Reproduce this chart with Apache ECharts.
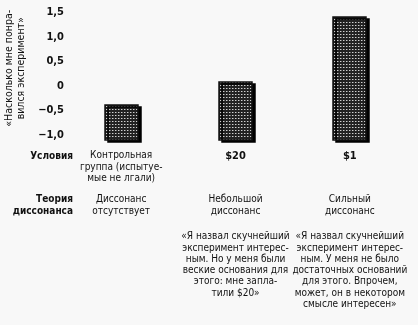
<!DOCTYPE html>
<html><head><meta charset="utf-8">
<script src="https://cdn.jsdelivr.net/npm/echarts@6/dist/echarts.min.js"></script>
<style>html,body{margin:0;padding:0;background:#f8f8f8}#c{width:418px;height:325px}</style>
</head><body><div id="c"></div>
<script>
const conditions = ['Контрольная\nгруппа (испытуе-\nмые не лгали)', '$20', '$1'];
const values = [-0.39, 0.08, 1.41];
const theoryHeads = ['Диссонанс\nотсутствует', 'Небольшой\nдиссонанс', 'Сильный\nдиссонанс'];
const quotes = ['',
  '«Я назвал скучнейший\nэксперимент интерес-\nным. Но у меня были\nвеские основания для\nэтого: мне запла-\nтили $20»',
  '«Я назвал скучнейший\nэксперимент интерес-\nным. У меня не было\nдостаточных оснований\nдля этого. Впрочем,\nможет, он в некотором\nсмысле интересен»'];
const tickValues = [-1, -0.5, 0, 0.5, 1, 1.5];
const yName = '«Насколько мне понра-\nвился эксперимент»';
const rowHeaders = ['Условия', 'Теория', 'диссонанса'];

const FONT = '"DejaVu Sans Condensed", "Liberation Sans Narrow", sans-serif';
const yMin = -1.1, yMax = 1.5;

const tile = document.createElement('canvas');
tile.width = 3; tile.height = 3;
const tc = tile.getContext('2d');
tc.fillStyle = '#222222'; tc.fillRect(0, 0, 3, 3);
tc.fillStyle = '#d0d0d0'; tc.fillRect(1, 1, 1, 1);
tc.fillStyle = '#707070'; tc.fillRect(2, 1, 1, 1);
const pattern = { type: 'pattern', image: tile, repeat: 'repeat' };

const chart = echarts.init(document.getElementById('c'), null, { renderer: 'canvas' });
const hiddenAxis = { show: true, axisLine: { show: false }, axisTick: { show: false }, splitLine: { show: false } };
chart.setOption({
  backgroundColor: '#f8f8f8',
  textStyle: { fontFamily: FONT },
  grid: { left: 64, right: 11, top: 12.5, bottom: 185, containLabel: false, outerBoundsMode: 'none' },
  xAxis: [
    Object.assign({ type: 'category', data: conditions, gridIndex: 0, position: 'bottom',
      axisLabel: { interval: 0, margin: 10, fontFamily: FONT, fontSize: 10, lineHeight: 11.5, color: '#111',
        formatter: (v) => v.startsWith('$') ? '{b|' + v + '}' : v,
        rich: { b: { fontWeight: 'bold', fontSize: 11, fontFamily: FONT, color: '#111' } } } }, hiddenAxis),
    Object.assign({ type: 'category', data: theoryHeads, gridIndex: 0, position: 'bottom', offset: 53,
      axisLabel: { interval: 0, margin: 0, fontFamily: FONT, fontSize: 10, lineHeight: 12, color: '#111' } }, hiddenAxis),
    Object.assign({ type: 'category', data: quotes, gridIndex: 0, position: 'bottom', offset: 91,
      axisLabel: { interval: 0, margin: 0, fontFamily: FONT, fontSize: 10, lineHeight: 11.3, color: '#111' } }, hiddenAxis)
  ],
  yAxis: {
    type: 'value', min: yMin, max: yMax, offset: -4,
    name: yName, nameLocation: 'middle', nameRotate: 90, nameGap: 34,
    nameTextStyle: { fontFamily: FONT, fontSize: 10.5, lineHeight: 12, color: '#111', padding: [0, 0, 0, 16] },
    axisLine: { show: false }, axisTick: { show: false }, splitLine: { show: false },
    axisLabel: { customValues: tickValues, margin: 4, fontFamily: FONT, fontSize: 11, fontWeight: 'bold', color: '#111',
      formatter: (v) => v === 0 ? '0' : (v < 0 ? '−' : '') + Math.abs(v).toFixed(1).replace('.', ',') }
  },
  graphic: [
    { type: 'text', x: 73, y: 151, style: { text: rowHeaders[0], font: 'bold 10px ' + FONT, fill: '#111', align: 'right' } },
    { type: 'text', x: 73, y: 194, style: { text: rowHeaders[1], font: 'bold 10px ' + FONT, fill: '#111', align: 'right' } },
    { type: 'text', x: 73, y: 206, style: { text: rowHeaders[2], font: 'bold 10px ' + FONT, fill: '#111', align: 'right' } }
  ],
  series: [{
    type: 'custom',
    data: values.map((v, i) => [i, v]),
    renderItem: (params, api) => {
      const i = api.value(0), v = api.value(1);
      const top = api.coord([i, v]);
      const bot = api.coord([i, yMin]);
      const w = 33;
      return {
        type: 'rect',
        shape: { x: Math.round(top[0] - w / 2), y: Math.round(top[1]), width: w, height: Math.round(bot[1] - top[1]) },
        style: { fill: pattern, stroke: '#111', lineWidth: 1.5, shadowColor: '#000', shadowOffsetX: 3, shadowOffsetY: 2, shadowBlur: 0 }
      };
    }
  }]
});
</script></body></html>
